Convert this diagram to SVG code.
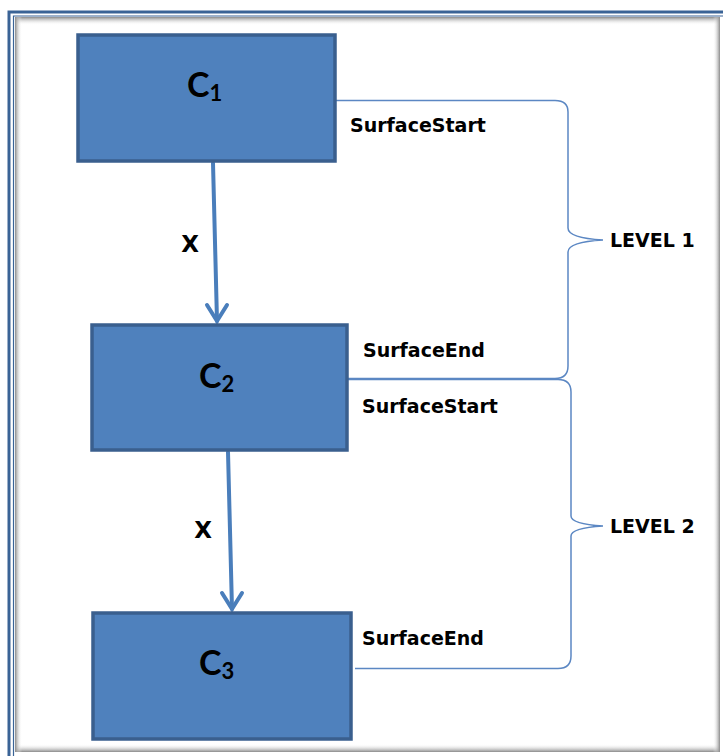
<svg xmlns="http://www.w3.org/2000/svg" width="723" height="756" viewBox="0 0 723 756">
<defs>
<style>
.box{fill:#4f81bd;stroke:#3a5f8e;stroke-width:3.5}
.lbl{font-family:Lato,"Liberation Sans",sans-serif;font-weight:bold;fill:#000}
.big{font-size:34px}
.sub{font-size:22px}
.side{font-family:"DejaVu Sans",Verdana,sans-serif;font-size:19px;font-weight:bold;fill:#000}
.ex{font-family:"DejaVu Sans",Verdana,sans-serif;font-size:23px;font-weight:bold;fill:#000}
.conn{stroke:#4a7ebb;stroke-width:4;fill:none;stroke-linecap:round}
.brace{stroke:#5b87c3;stroke-width:1.5;fill:none}
</style>
<linearGradient id="gTop" x1="0" y1="0" x2="0" y2="1"><stop offset="0" stop-color="#8a8a8a"/><stop offset="1" stop-color="#ffffff" stop-opacity="0"/></linearGradient>
<linearGradient id="gBot" x1="0" y1="1" x2="0" y2="0"><stop offset="0" stop-color="#8a8a8a"/><stop offset="1" stop-color="#ffffff" stop-opacity="0"/></linearGradient>
<linearGradient id="gLeft" x1="0" y1="0" x2="1" y2="0"><stop offset="0" stop-color="#8a8a8a"/><stop offset="1" stop-color="#ffffff" stop-opacity="0"/></linearGradient>
<linearGradient id="gRight" x1="1" y1="0" x2="0" y2="0"><stop offset="0" stop-color="#8a8a8a"/><stop offset="1" stop-color="#ffffff" stop-opacity="0"/></linearGradient>
</defs>
<rect x="0" y="0" width="723" height="756" fill="#ffffff"/>
<g id="frame">
<rect x="15" y="17" width="705" height="735" fill="#ffffff"/>
<rect x="15" y="17" width="705" height="8" fill="url(#gTop)"/>
<rect x="15" y="744" width="705" height="8" fill="url(#gBot)"/>
<rect x="15" y="17" width="7" height="735" fill="url(#gLeft)"/>
<rect x="713" y="17" width="7" height="735" fill="url(#gRight)"/>
<path d="M9 760 V12 H730" fill="none" stroke="#3a6396" stroke-width="3"/>
<path d="M13.5 760 V16 H730" fill="none" stroke="#3a6396" stroke-width="1.2"/>
</g>
<g id="connectors">
<line class="conn" x1="213" y1="163" x2="217" y2="321"/>
<path class="conn" d="M207 305 L217 321 L227 305"/>
<line class="conn" x1="228" y1="452" x2="232" y2="609"/>
<path class="conn" d="M222 593 L232 609 L242 593"/>
<path class="brace" d="M336 100.5 H555 Q568 100.5 568 112 V228 Q568 238 603 240 Q568 242 568 252 V366 Q568 378.5 555 378.5 H348"/>
<path class="brace" d="M348 379.5 H558 Q571 379.5 571 392 V516 Q571 524 603 526 Q571 528 571 536 V656 Q571 668.5 558 668.5 H355"/>
</g>
<g id="c1">
<rect class="box" x="78" y="35" width="257" height="126"/>
<text class="lbl big" x="187" y="97">C<tspan class="sub" dy="4">1</tspan></text>
</g>
<g id="c2">
<rect class="box" x="92" y="325" width="255" height="125"/>
<text class="lbl big" x="199" y="388">C<tspan class="sub" dy="4">2</tspan></text>
</g>
<g id="c3">
<rect class="box" x="93" y="613" width="258" height="126"/>
<text class="lbl big" x="199" y="675">C<tspan class="sub" dy="4">3</tspan></text>
</g>
<g id="labels">
<text class="ex" x="190" y="252" text-anchor="middle">X</text>
<text class="ex" x="203" y="538" text-anchor="middle">X</text>
<text class="side" x="350" y="132">SurfaceStart</text>
<text class="side" x="363" y="357">SurfaceEnd</text>
<text class="side" x="362" y="413">SurfaceStart</text>
<text class="side" x="362" y="645">SurfaceEnd</text>
<text class="side" x="610" y="247">LEVEL 1</text>
<text class="side" x="610" y="533">LEVEL 2</text>
</g>
</svg>
